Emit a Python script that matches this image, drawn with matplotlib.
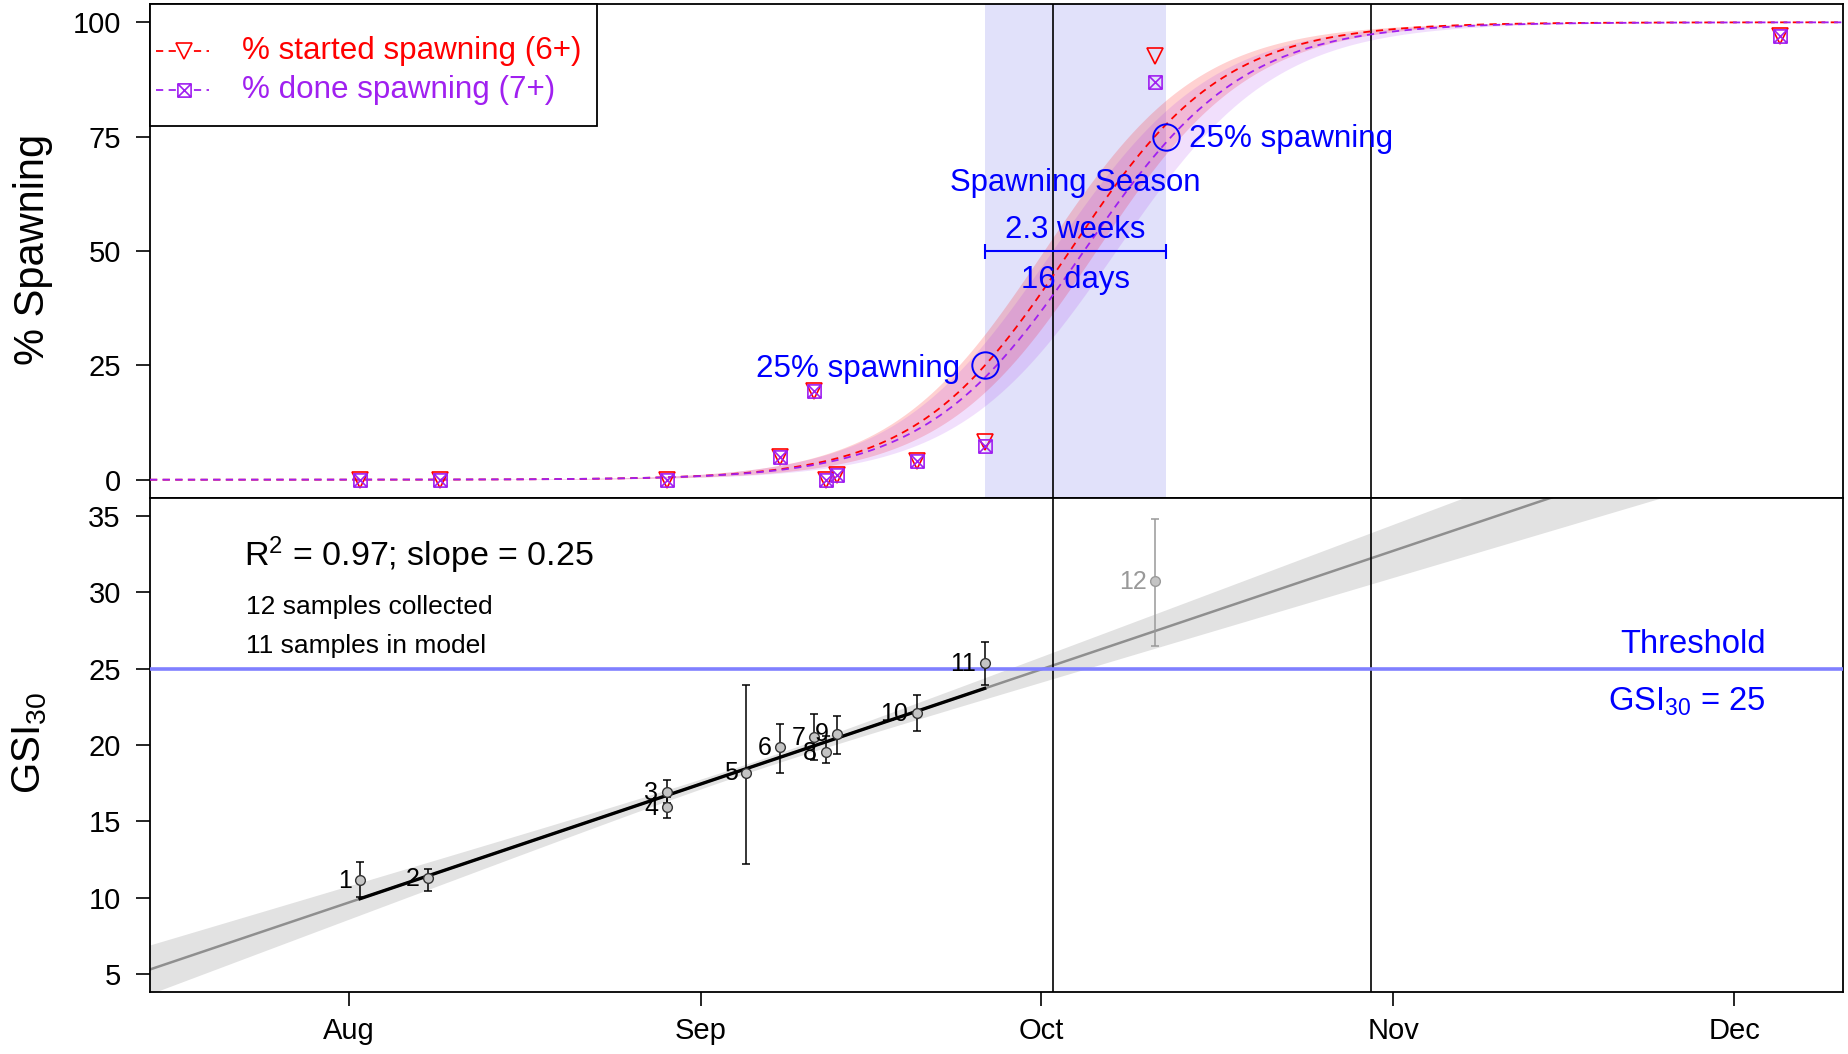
import numpy as np
import matplotlib
matplotlib.use("Agg")
import matplotlib.pyplot as plt
import matplotlib.dates as mdates
import matplotlib.transforms as mtransforms
from matplotlib.path import Path
from matplotlib.lines import Line2D
from matplotlib.patches import Rectangle

plt.rcParams["font.family"] = ["Liberation Sans", "DejaVu Sans"]
plt.rcParams["mathtext.default"] = "regular"

# ---------------- spawning survey (upper panel) ----------------
survey_dates = ["2017-08-02", "2017-08-09", "2017-08-29", "2017-09-08",
                "2017-09-11", "2017-09-12", "2017-09-13", "2017-09-20",
                "2017-09-26", "2017-10-11", "2017-12-05"]
pct_started = [0.0, 0.0, 0.0, 5.0, 19.3, 0.0, 1.1, 4.0, 8.3, 92.7, 97.1]
pct_done = [0.0, 0.0, 0.0, 5.0, 19.3, 0.0, 1.1, 4.0, 7.3, 87.0, 97.1]

# logistic fits: midpoint, scale (days), confidence shift (days)
started_fit = ("2017-10-03T12:00", 6.8, 2.3)
done_fit = ("2017-10-04T18:00", 7.0, 2.8)

season_start = "2017-09-26"
season_end = "2017-10-12"
season_pcts = [25, 75]

# ---------------- gonad samples (lower panel) ----------------
sample_ids = [1, 2, 3, 4, 5, 6, 7, 8, 9, 10, 11, 12]
sample_dates = ["2017-08-02", "2017-08-08", "2017-08-29", "2017-08-29",
                "2017-09-05", "2017-09-08", "2017-09-11", "2017-09-12",
                "2017-09-13", "2017-09-20", "2017-09-26", "2017-10-11"]
gsi_mean = [11.17, 11.28, 16.93, 15.95, 18.19, 19.87, 20.5, 19.55, 20.74, 22.1, 25.35, 30.7]
gsi_low = [10.04, 10.45, 16.2, 15.23, 12.21, 18.2, 19.0, 18.85, 19.43, 20.9, 23.93, 26.5]
gsi_high = [12.32, 11.88, 17.72, 16.6, 23.9, 21.4, 22.0, 20.6, 21.87, 23.24, 26.76, 34.8]
in_model = [True] * 11 + [False]

r_squared = 0.97
fit_slope = 0.25            # GSI units per day
fit_ref = ("2017-08-02", 9.95)
ci_center = "2017-09-05"
ci_min_half, ci_growth = 0.3, 0.03
threshold = 25

ref_lines = ["2017-10-02", "2017-10-30"]
month_ticks = ["2017-08-01", "2017-09-01", "2017-10-01", "2017-11-01", "2017-12-01"]
month_labels = ["Aug", "Sep", "Oct", "Nov", "Dec"]
x_range = ("2017-07-14T12:00", "2017-12-10T14:00")


def dnum(v):
    return mdates.date2num(np.array(v, dtype="datetime64[m]"))


def logistic(x, mid, scale):
    return 100.0 / (1.0 + np.exp(-(x - mid) / scale))


RED = "#FF0000"
PURPLE = "#A020F0"
BLUE = "#0000FF"

fig = plt.figure(figsize=(18.49, 10.54), dpi=100)
ax1 = fig.add_axes([0.08112, 0.52751, 0.9156, 0.46869])
ax2 = fig.add_axes([0.08112, 0.05882, 0.9156, 0.46869])

xmin, xmax = dnum(x_range)
xs = np.linspace(xmin, xmax, 800)
s0, s1 = dnum([season_start, season_end])

for ax in (ax1, ax2):
    ax.set_xlim(xmin, xmax)
    for sp in ax.spines.values():
        sp.set_linewidth(1.3)
    for xv in dnum(ref_lines):
        ax.axvline(xv, color="black", lw=1.2, zorder=3)
    ax.tick_params(axis="y", length=10, width=1.2, pad=11, labelsize=21)

# ---------------- upper panel ----------------
ax1.set_ylim(-4, 104)
ax1.set_yticks([0, 25, 50, 75, 100])
ax1.tick_params(axis="x", bottom=False, labelbottom=False)
ax1.axvspan(s0, s1, color="#E1E1FA", lw=0, zorder=0)

boxed_x = Path([(-1, -1), (1, -1), (1, 1), (-1, 1), (-1, -1), (-1, -1), (1, 1), (-1, 1), (1, -1)],
               [Path.MOVETO, Path.LINETO, Path.LINETO, Path.LINETO, Path.CLOSEPOLY,
                Path.MOVETO, Path.LINETO, Path.MOVETO, Path.LINETO])

for fit, col, alpha in ((started_fit, RED, 0.18), (done_fit, PURPLE, 0.14)):
    mid = dnum(fit[0])
    ax1.fill_between(xs, logistic(xs, mid + fit[2], fit[1]), logistic(xs, mid - fit[2], fit[1]),
                     color=col, alpha=alpha, lw=0, zorder=1)
for fit, col in ((started_fit, RED), (done_fit, PURPLE)):
    ax1.plot(xs, logistic(xs, dnum(fit[0]), fit[1]), color=col, lw=1.3,
             dashes=(4, 3), zorder=4)

sd = dnum(survey_dates)
ax1.plot(sd, pct_started, ls="none", marker="v", ms=12, mfc="none", mec=RED, mew=1.2, zorder=6)
ax1.plot(sd, pct_done, ls="none", marker=boxed_x, ms=9.5, mfc="none", mec=PURPLE, mew=1.2, zorder=6)

# season bounds
ax1.plot([s0, s1], season_pcts, ls="none", marker="o", ms=19, mfc="none", mec=BLUE, mew=1.4, zorder=7)
ax1.annotate("25% spawning", (s0, season_pcts[0] - 0.7), xytext=(-18, 0), textcoords="offset points",
             ha="right", va="center", fontsize=22.6, color=BLUE, zorder=8)
ax1.annotate("25% spawning", (s1, season_pcts[1] - 0.6), xytext=(16, 0), textcoords="offset points",
             ha="left", va="center", fontsize=22.6, color=BLUE, zorder=8)
smid = (s0 + s1) / 2
n_days = int(round(s1 - s0))
ax1.text(smid, 64.8, "Spawning Season", ha="center", va="center", fontsize=22.4, color=BLUE, zorder=8)
ax1.text(smid, 54.6, f"{n_days / 7:.1f} weeks", ha="center", va="center", fontsize=22.4, color=BLUE, zorder=8)
ax1.text(smid, 43.6, f"{n_days} days", ha="center", va="center", fontsize=22.4, color=BLUE, zorder=8)
ax1.errorbar(smid, 50, xerr=[[smid - s0], [s1 - smid]], fmt="none", ecolor=BLUE,
             elinewidth=1.5, capsize=5.4, capthick=1.5, zorder=8)

# legend box
ax1.add_patch(Rectangle((0, 0.7535), 0.264, 0.2465, transform=ax1.transAxes, facecolor="white",
                        edgecolor="black", lw=1.3, zorder=10, clip_on=False))
legend_rows = [("% started spawning (6+)", RED, "v", 12, 0.905),
               ("% done spawning (7+)", PURPLE, boxed_x, 9.5, 0.825)]
for label, col, mk, ms, yy in legend_rows:
    ax1.add_line(Line2D([0.0034, 0.0202, 0.0348], [yy, yy, yy], transform=ax1.transAxes,
                        color=col, lw=1.3, dashes=(4, 3), marker=mk, markevery=[1], ms=ms,
                        mfc="white", mec=col, mew=1.2, zorder=11))
    ax1.text(0.0543, yy, label, transform=ax1.transAxes, ha="left", va="center",
             fontsize=22.6, color=col, zorder=11)

# ---------------- lower panel ----------------
ax2.set_ylim(3.85, 36.15)
ax2.set_yticks([5, 10, 15, 20, 25, 30, 35])
ax2.set_xticks(dnum(month_ticks))
ax2.set_xticklabels(month_labels)
ax2.tick_params(axis="x", length=10, width=1.2, pad=8, labelsize=21)

ref_x, ref_y = dnum(fit_ref[0]), fit_ref[1]
fit_line = ref_y + fit_slope * (xs - ref_x)
half = np.sqrt(ci_min_half ** 2 + (ci_growth * (xs - dnum(ci_center))) ** 2)
ax2.fill_between(xs, fit_line - half, fit_line + half, color="#E2E2E2", lw=0, zorder=1)
ax2.plot(xs, fit_line, color="#8F8F8F", lw=1.8, zorder=2)

samp_x = dnum(sample_dates)
model_x = samp_x[np.array(in_model)]
mx = np.linspace(model_x.min(), model_x.max(), 100)
ax2.plot(mx, ref_y + fit_slope * (mx - ref_x), color="black", lw=2.4, zorder=4)

ax2.axhline(threshold, color="#8080FF", lw=2.6, zorder=3)

for i, sid in enumerate(sample_ids):
    col = "black" if in_model[i] else "#999999"
    mec = "#333333" if in_model[i] else "#9A9A9A"
    ax2.errorbar(samp_x[i], gsi_mean[i],
                 yerr=[[gsi_mean[i] - gsi_low[i]], [gsi_high[i] - gsi_mean[i]]],
                 fmt="none", ecolor=col, elinewidth=1.1, capsize=2.6, capthick=1.1, zorder=5)
    ax2.plot(samp_x[i], gsi_mean[i], ls="none", marker="o", ms=7, mfc="#C4C4C4",
             mec=mec, mew=1.0, zorder=6)
    ax2.annotate(str(sid), (samp_x[i], gsi_mean[i]), xytext=(-6, -0.5), textcoords="offset points",
                 ha="right", va="center", fontsize=18, color=col, zorder=7)

ax2.text(0.0555, 0.884, f"R$^{{2}}$ = {r_squared:.2f}; slope = {fit_slope:.2f}",
         transform=ax2.transAxes, ha="left", va="center", fontsize=24.5)
ax2.text(0.0565, 0.779, f"{len(sample_ids)} samples collected",
         transform=ax2.transAxes, ha="left", va="center", fontsize=19)
ax2.text(0.0565, 0.700, f"{sum(in_model)} samples in model",
         transform=ax2.transAxes, ha="left", va="center", fontsize=19)

blend = mtransforms.blended_transform_factory(ax2.transAxes, ax2.transData)
ax2.text(0.9545, threshold + 1.6, "Threshold", transform=blend, ha="right", va="center",
         fontsize=23.6, color=BLUE)
ax2.text(0.9545, threshold - 2.15, f"GSI$_{{30}}$ = {threshold}", transform=blend, ha="right",
         va="center", fontsize=23.6, color=BLUE)

# axis titles
fig.text(0.0180, 0.7630, "% Spawning", rotation=90, ha="center", va="center", fontsize=30)
fig.text(0.0160, 0.295, "GSI$_{30}$", rotation=90, ha="center", va="center", fontsize=29)

fig.savefig("out.png", dpi=100, facecolor="white")
